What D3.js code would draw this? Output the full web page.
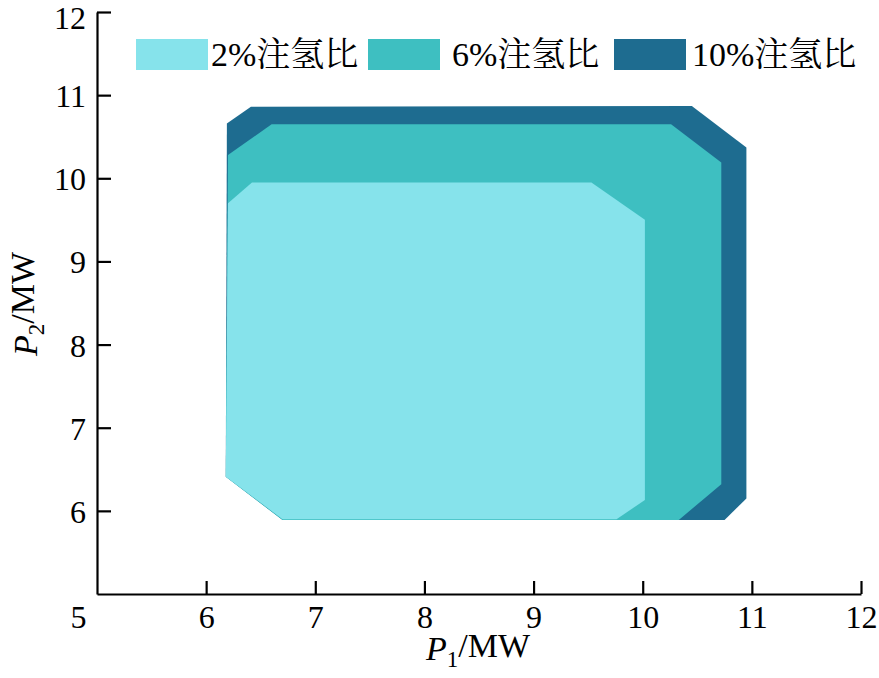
<!DOCTYPE html>
<html>
<head>
<meta charset="utf-8">
<script src="https://cdn.jsdelivr.net/npm/d3@7"></script>
<style>
  body { margin: 0; background: #fff; }
  svg text { font-family: "Liberation Serif", "Times New Roman", "Noto Serif CJK SC", "Noto Sans CJK SC", serif; fill: #000; }
</style>
</head>
<body>
<svg id="chart"></svg>
<script>
var width = 879;
var height = 678;

// feasible regions, [P1, P2] in MW
var region10 = [[6.19,10.66],[6.41,10.86],[10.45,10.87],[10.95,10.37],[10.95,6.15],[10.75,5.89],[6.7,5.89],[6.18,6.41]];
var region6 = [[6.2,10.28],[6.6,10.65],[10.26,10.65],[10.72,10.19],[10.72,6.32],[10.33,5.89],[6.7,5.89],[6.18,6.41]];
var region2 = [[6.2,9.7],[6.42,9.95],[9.53,9.95],[10.02,9.5],[10.02,6.13],[9.76,5.9],[6.7,5.9],[6.18,6.41]];

var seriesNames = ["2%注氢比", "6%注氢比", "10%注氢比"];
var seriesColors = ["#86e3eb", "#3ebfc1", "#1e6c90"];
var xTicks = [5, 6, 7, 8, 9, 10, 11, 12];
var yTicks = [6, 7, 8, 9, 10, 11, 12];

var svg = d3.select("#chart")
    .attr("width", width)
    .attr("height", height);

var xScale = d3.scaleLinear().domain([5, 12]).range([97, 861]);
var yScale = d3.scaleLinear().domain([5, 12]).range([594, 12]);

var line = d3.line()
    .x(d => xScale(d[0]))
    .y(d => yScale(d[1]))
    .curve(d3.curveLinearClosed);

// draw largest first so smaller ones sit on top
[region10, region6, region2].forEach(function(r, i) {
    svg.append("path")
        .attr("d", line(r))
        .attr("fill", seriesColors[2 - i]);
});

var xAxis = d3.axisBottom(xScale)
    .tickValues(xTicks)
    .tickSize(-13)
    .tickSizeOuter(0)
    .tickPadding(11)
    .tickFormat(d3.format("d"));
var yAxis = d3.axisLeft(yScale)
    .tickValues(yTicks)
    .tickSize(-14)
    .tickSizeOuter(0)
    .tickPadding(11)
    .tickFormat(d3.format("d"));

var gx = svg.append("g")
    .attr("transform", "translate(0," + yScale(5) + ")")
    .call(xAxis);
var gy = svg.append("g")
    .attr("transform", "translate(" + xScale(5) + ",0)")
    .call(yAxis);

[gx, gy].forEach(function(g) {
    g.selectAll("path, line").attr("stroke", "#000").attr("stroke-width", 2.2);
    g.selectAll("text").style("font-size", "32px").attr("fill", "#000");
});
// the "5" sits left of the corner
gx.selectAll(".tick").filter(d => d === 5).select("text").attr("x", -19);
gx.selectAll(".tick").filter(d => d === 5).select("line").remove();
gy.selectAll(".tick text").attr("dy", "0.36em");
gy.selectAll(".tick").filter(d => d === 12).select("text").attr("dy", "0.5em");

// axis titles
var xt = svg.append("text")
    .attr("x", 478)
    .attr("y", 660)
    .style("text-anchor", "middle")
    .style("font-size", "34px");
xt.append("tspan").style("font-style", "italic").text("P");
xt.append("tspan").attr("dy", "0.3em").style("font-size", "23px").text("1");
xt.append("tspan").attr("dy", "-0.3em").text("/MW");

var yt = svg.append("text")
    .attr("transform", "translate(37,304) rotate(-90)")
    .style("text-anchor", "middle")
    .style("font-size", "34px");
yt.append("tspan").style("font-style", "italic").text("P");
yt.append("tspan").attr("dy", "0.3em").style("font-size", "23px").text("2");
yt.append("tspan").attr("dy", "-0.3em").text("/MW");

// legend
var legendX = [136, 368, 614];
var legend = svg.append("g");
seriesNames.forEach(function(name, i) {
    legend.append("rect")
        .attr("x", legendX[i])
        .attr("y", 39)
        .attr("width", 72)
        .attr("height", 31)
        .attr("fill", seriesColors[i]);
    legend.append("text")
        .attr("x", legendX[i] + (i === 2 ? 78 : i === 1 ? 84 : 75))
        .attr("y", 66)
        .style("font-size", "34px")
        .text(name);
});
</script>
</body>
</html>
